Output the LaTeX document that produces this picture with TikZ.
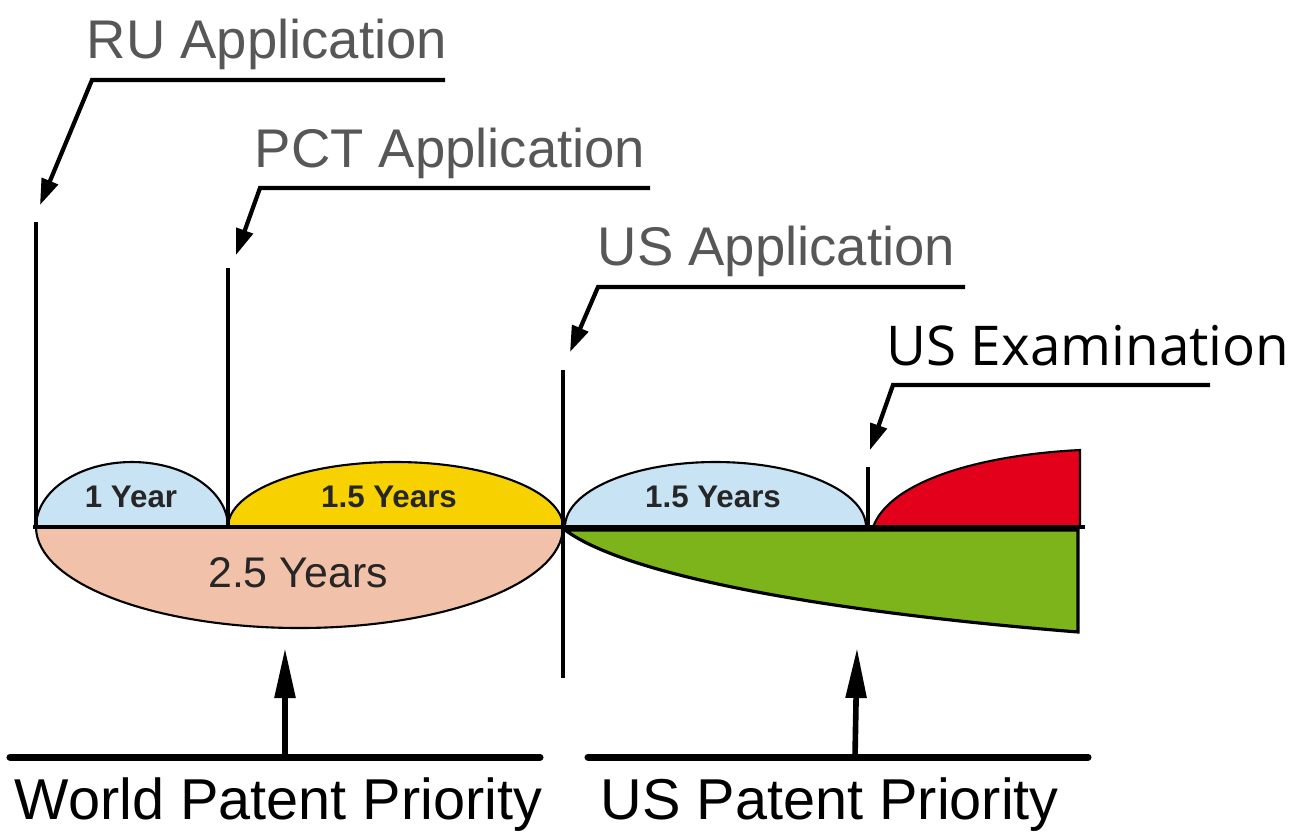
\documentclass[tikz,border=0pt]{standalone}
\usepackage{fontspec}
\setmainfont{Liberation Sans}
\newfontfamily\exfont{Open Sans}
\usepackage{tikz}
\usetikzlibrary{arrows.meta}
\definecolor{skyb}{HTML}{C8E3F4}
\definecolor{gold}{HTML}{F7D200}
\definecolor{peach}{HTML}{F2C1A9}
\definecolor{redx}{HTML}{E2001A}
\definecolor{leaf}{HTML}{7DB31B}
\definecolor{greyt}{HTML}{575757}
\tikzstyle{tick}=[line width=1.2pt]
\tikzstyle{lead}=[line width=1.2pt, -{Triangle[length=2.6mm,width=1.7mm]}]
\tikzstyle{half}=[draw, line width=.6pt]
\tikzstyle{bar}=[line width=2pt, line cap=round]
\tikzstyle{up}=[line width=1.6pt, -{Triangle[length=5mm,width=2mm]}]
\tikzstyle{title}=[draw=none, inner sep=0pt, anchor=base west, text=greyt, font=\fontsize{15.5}{18}\selectfont]
\tikzstyle{yr}=[draw=none, inner sep=0pt, text=black!85, font=\bfseries\fontsize{8.9}{10}\selectfont]
\tikzstyle{prio}=[draw=none, inner sep=0pt, anchor=base west, font=\fontsize{16.4}{19}\selectfont]

\begin{document}
\begin{tikzpicture}
\useasboundingbox (0,0) rectangle (13.08,8.33);
% time spans
\path[half, fill=peach] (0.36,3.06) arc[start angle=180, end angle=360, x radius=2.635, y radius=1.01] -- cycle;
\path[half, fill=skyb] (0.36,3.06) arc[start angle=180, end angle=0, x radius=0.96, y radius=0.65] -- cycle;
\path[half, fill=gold] (2.28,3.06) arc[start angle=180, end angle=0, x radius=1.675, y radius=0.65] -- cycle;
\path[half, fill=skyb] (5.65,3.06) arc[start angle=180, end angle=0, x radius=1.505, y radius=0.65] -- cycle;
\path[draw, line width=.9pt, fill=leaf] (5.65,3.03) .. controls (6.3,2.55) and (8.4,2.2) .. (10.78,2.01) -- (10.78,3.03) -- cycle;
\path[draw, line width=.6pt, fill=redx] (8.73,3.06) .. controls (8.9,3.52) and (9.8,3.78) .. (10.80,3.83) -- (10.80,3.06) -- cycle;
\node[yr] (y1) at (1.31,3.36) {1 Year};
\node[yr] (y2) at (3.89,3.36) {1.5 Years};
\node[yr] (y3) at (7.13,3.36) {1.5 Years};
\node[draw=none, inner sep=0pt, text=black!85, font=\fontsize{12.2}{14}\selectfont] (y4) at (2.98,2.60) {2.5 Years};
% time line and events
\coordinate (b0) at (0.33,3.06);
\coordinate (b1) at (10.85,3.06);
\draw[line width=1.2pt] (b0) -- (b1);
\foreach \n/\x/\y in {ru/0.36/6.11, pct/2.28/5.65, ex/8.68/3.66}
  \draw[tick] (\x,\y) coordinate (\n) -- (\x,3.06);
\coordinate (us) at (5.63,4.63);
\coordinate (usb) at (5.63,1.55);
\draw[tick] (us) -- (usb);
% leaders
\foreach \n/\x/\y/\e/\tx/\ty in {ru/0.92/7.53/4.45/0.40/6.28, pct/2.60/6.45/6.50/2.36/5.78, us/5.98/5.46/9.65/5.70/4.81, ex/8.93/4.48/12.10/8.70/3.83} {
  \coordinate (\n k) at (\x,\y);
  \coordinate (\n e) at (\e,\y);
  \coordinate (\n t) at (\tx,\ty);
  \draw[lead] (\n e) -- (\n k) -- (\n t);
}
\node[title] (tru) at (0.86,7.75) {RU Application};
\node[title] (tpct) at (2.54,6.66) {PCT Application};
\node[title] (tus) at (5.97,5.68) {US Application};
\node[title, text=black, font=\exfont\fontsize{15.6}{18}\selectfont] (tex) at (8.86,4.68) {US Examination};
% priorities
\coordinate (w0) at (0.10,0.76);
\coordinate (w1) at (5.40,0.76);
\coordinate (u0) at (5.88,0.76);
\coordinate (u1) at (10.88,0.76);
\draw[bar] (w0) -- (w1);
\draw[bar] (u0) -- (u1);
\coordinate (wa) at (2.85,0.76);
\coordinate (wt) at (2.85,1.85);
\coordinate (ua) at (8.55,0.76);
\coordinate (ut) at (8.57,1.85);
\draw[up] (wa) -- (wt);
\draw[up] (ua) -- (ut);
\node[prio] (pw) at (0.14,0.14) {World Patent Priority};
\node[prio] (pu) at (6.00,0.14) {US Patent Priority};
\end{tikzpicture}
\end{document}
